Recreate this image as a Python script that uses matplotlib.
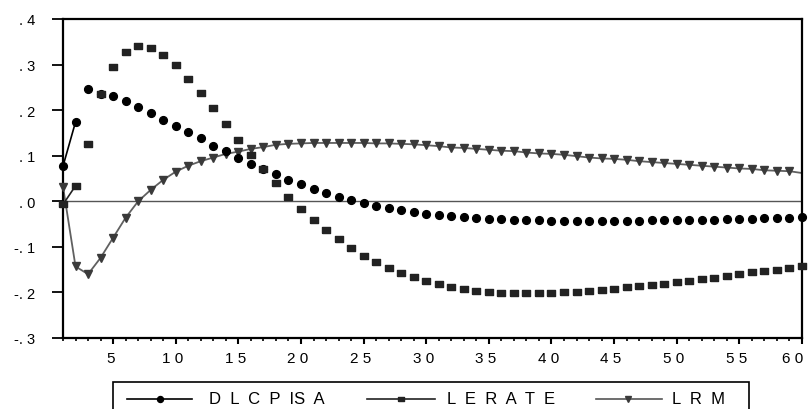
# -*- coding: utf-8 -*-
"""
Impulse response style chart: DLCPISA / LERATE / LRM over 60 periods
"""

import matplotlib
matplotlib.use('Agg')
import matplotlib.pyplot as plt
import matplotlib.transforms as mtransforms
from matplotlib.lines import Line2D
from matplotlib.patches import Rectangle
from matplotlib.ticker import MultipleLocator

plt.rcParams['font.family'] = ['Liberation Sans', 'DejaVu Sans']

# periods
periods = list(range(1, 61))

# DLCPISA (circles)
dlcpisa = [0.077, 0.174, 0.246, 0.236, 0.231, 0.219, 0.206, 0.194, 0.179, 0.166,
           0.153, 0.138, 0.122, 0.111, 0.095, 0.082, 0.071, 0.060, 0.046, 0.037,
           0.027, 0.018, 0.010, 0.003, -0.004, -0.010, -0.015, -0.019, -0.024, -0.027,
           -0.030, -0.033, -0.035, -0.036, -0.038, -0.039, -0.040, -0.041, -0.042, -0.043,
           -0.043, -0.044, -0.044, -0.044, -0.044, -0.043, -0.043, -0.042, -0.042, -0.041,
           -0.041, -0.040, -0.040, -0.039, -0.038, -0.038, -0.037, -0.037, -0.036, -0.035]

# LERATE (squares)
lerate = [-0.007, 0.034, 0.126, 0.235, 0.294, 0.328, 0.341, 0.336, 0.321, 0.299,
          0.269, 0.238, 0.205, 0.169, 0.135, 0.102, 0.071, 0.040, 0.010, -0.017,
          -0.041, -0.063, -0.083, -0.102, -0.119, -0.133, -0.146, -0.157, -0.166, -0.175,
          -0.181, -0.188, -0.193, -0.196, -0.199, -0.201, -0.201, -0.201, -0.201, -0.201,
          -0.199, -0.198, -0.197, -0.195, -0.192, -0.188, -0.185, -0.183, -0.181, -0.177,
          -0.174, -0.171, -0.168, -0.163, -0.160, -0.156, -0.153, -0.150, -0.147, -0.143]

# LRM (triangles + line)
lrm = [0.032, -0.143, -0.160, -0.124, -0.080, -0.036, 0.000, 0.025, 0.047, 0.065,
       0.078, 0.088, 0.096, 0.104, 0.109, 0.115, 0.119, 0.124, 0.126, 0.127,
       0.128, 0.128, 0.128, 0.128, 0.128, 0.127, 0.127, 0.126, 0.125, 0.123,
       0.121, 0.118, 0.117, 0.115, 0.113, 0.111, 0.110, 0.107, 0.105, 0.104,
       0.102, 0.099, 0.096, 0.094, 0.093, 0.091, 0.088, 0.086, 0.084, 0.082,
       0.080, 0.078, 0.076, 0.074, 0.072, 0.071, 0.068, 0.067, 0.066, 0.062]

series_names = ['D  L  C  P  IS  A', 'L  E  R  A  T  E', 'L  R  M']

# axis ticks
x_ticks = [5, 10, 15, 20, 25, 30, 35, 40, 45, 50, 55, 60]
x_ticklabels = ['5', '1 0', '1 5', '2 0', '2 5', '3 0', '3 5', '4 0', '4 5', '5 0', '5 5', '6 0']
y_ticks = [0.4, 0.3, 0.2, 0.1, 0.0, -0.1, -0.2, -0.3]
y_ticklabels = ['. 4', '. 3', '. 2', '. 1', '. 0', '-. 1', '-. 2', '-. 3']

W, H = 808, 410

# wide flat square marker
rect_marker = [(-1, -0.7), (1, -0.7), (1, 0.7), (-1, 0.7), (-1, -0.7)]


def fx(px):
    return px / W


def fy(py):
    return 1 - py / H


fig = plt.figure(figsize=(W / 100, H / 100), dpi=100)
ax = fig.add_axes([fx(63), fy(339), fx(802) - fx(63), fy(20) - fy(339)])

# zero line
ax.axhline(0, color='#555555', lw=1.0, zorder=1)

# DLCPISA: only first segment has a line
ax.plot(periods[:2], dlcpisa[:2], color='black', lw=1.2, zorder=3)
ax.plot(periods, dlcpisa, ls='none', marker='o', ms=5.6, color='black',
        clip_on=False, zorder=4)

# LERATE
ax.plot(periods[:2], lerate[:2], color='#222222', lw=1.2, zorder=3)
ax.plot(periods, lerate, ls='none', marker=rect_marker, ms=6.2, color='#222222',
        clip_on=False, zorder=4)

# LRM
ax.plot(periods, lrm, color='#606060', lw=1.3, zorder=2)
ax.plot(periods[:59], lrm[:59], ls='none', marker='v', ms=6, color='#3a3a3a',
        clip_on=False, zorder=3)

ax.set_xlim(1, 60)
ax.set_ylim(-0.3, 0.4)

ax.set_xticks(x_ticks)
ax.set_xticklabels(x_ticklabels)
ax.xaxis.set_minor_locator(MultipleLocator(1))
ax.set_yticks(y_ticks)
ax.set_yticklabels(y_ticklabels)

ax.tick_params(axis='x', which='major', direction='out', length=4.5, width=1.5,
               pad=5, labelsize=11)
ax.tick_params(axis='x', which='minor', direction='out', length=2.2, width=1.2)
ax.tick_params(axis='y', which='major', direction='out', length=8, width=1.3,
               pad=12, labelsize=10.5)

# x labels sit a little left of their ticks, last one pulled inside the canvas
labels = ax.get_xticklabels()
for i, lab in enumerate(labels):
    shift = -9 if i == len(labels) - 1 else -3
    lab.set_transform(lab.get_transform() +
                      mtransforms.ScaledTranslation(shift / 100, 0, fig.dpi_scale_trans))

for s in ax.spines.values():
    s.set_linewidth(1.6)
    s.set_color('black')

# legend box below the plot (bottom runs off the canvas)
fig.add_artist(Rectangle((fx(113), fy(418)), fx(749) - fx(113), fy(383) - fy(418),
                         transform=fig.transFigure, fill=False, lw=1.2,
                         edgecolor='black'))

leg_y = fy(400)
handles = [
    (127, 192, 160, 'o', 5.4, 'black', 'black', 209),
    (367, 435, 401, rect_marker, 6, '#222222', '#222222', 447),
    (596, 662, 628, 'v', 6, '#3a3a3a', '#555555', 672),
]
for (x0, x1, xm, mk, ms, mcol, lcol, xt), name in zip(handles, series_names):
    fig.add_artist(Line2D([fx(x0), fx(x1)], [leg_y, leg_y], color=lcol, lw=1.2,
                          transform=fig.transFigure))
    fig.add_artist(Line2D([fx(xm)], [leg_y], marker=mk, ms=ms * 0.8, color=mcol,
                          ls='none', transform=fig.transFigure))
    fig.text(fx(xt), leg_y, name, fontsize=12, va='center', ha='left')

fig.savefig('out.png', dpi=100)
